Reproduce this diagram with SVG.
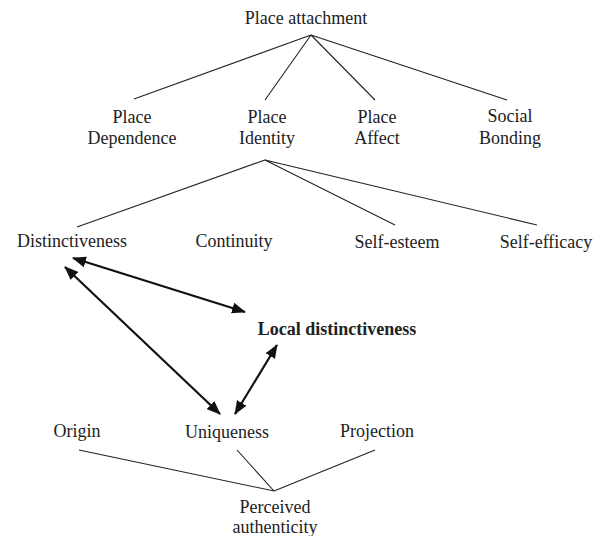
<svg xmlns="http://www.w3.org/2000/svg" width="603" height="536" viewBox="0 0 603 536">
<style>
text{font-family:"Liberation Serif","Times New Roman",serif;font-size:18px;fill:#222;text-anchor:middle}
.b{font-weight:bold}
.t{stroke:#222;stroke-width:1.1;fill:none}
.a{stroke:#111;stroke-width:2.2;fill:none;marker-start:url(#ah);marker-end:url(#ah)}
</style>
<defs>
<marker id="ah" markerUnits="userSpaceOnUse" markerWidth="14" markerHeight="12" refX="13" refY="5.5" orient="auto-start-reverse" viewBox="0 0 14 11">
<path d="M0,0 L14,5.5 L0,11 z" fill="#111"/>
</marker>
</defs>
<rect width="603" height="536" fill="#fff"/>
<g id="connectors">
<path class="t" d="M311,35 L134,99 M311,35 L265,100 M311,35 L375,100 M311,35 L507,100"/>
<path class="t" d="M265,160 L77,227 M265,160 L395,225 M265,160 L537,225"/>
<path class="t" d="M79,450 L274,491 M237,450 L274,491 M375,450 L274,491"/>
<line class="a" x1="73" y1="258" x2="245" y2="312"/>
<line class="a" x1="65" y1="267" x2="220" y2="414"/>
<line class="a" x1="277" y1="345" x2="235" y2="414"/>
</g>
<g id="place-attachment"><text x="306" y="24">Place attachment</text></g>
<g id="place-dependence"><text x="132" y="123">Place</text><text x="132" y="144">Dependence</text></g>
<g id="place-identity"><text x="267" y="123">Place</text><text x="267" y="144">Identity</text></g>
<g id="place-affect"><text x="377" y="123">Place</text><text x="377" y="144">Affect</text></g>
<g id="social-bonding"><text x="510" y="122">Social</text><text x="510" y="144">Bonding</text></g>
<g id="distinctiveness"><text x="72" y="247">Distinctiveness</text></g>
<g id="continuity"><text x="234" y="247">Continuity</text></g>
<g id="self-esteem"><text x="397" y="248">Self-esteem</text></g>
<g id="self-efficacy"><text x="546" y="248">Self-efficacy</text></g>
<g id="local-distinctiveness"><text class="b" x="337" y="335">Local distinctiveness</text></g>
<g id="origin"><text x="77" y="437">Origin</text></g>
<g id="uniqueness"><text x="227" y="438">Uniqueness</text></g>
<g id="projection"><text x="377" y="437">Projection</text></g>
<g id="perceived-authenticity"><text x="275" y="513">Perceived</text><text x="275" y="533">authenticity</text></g>
</svg>
